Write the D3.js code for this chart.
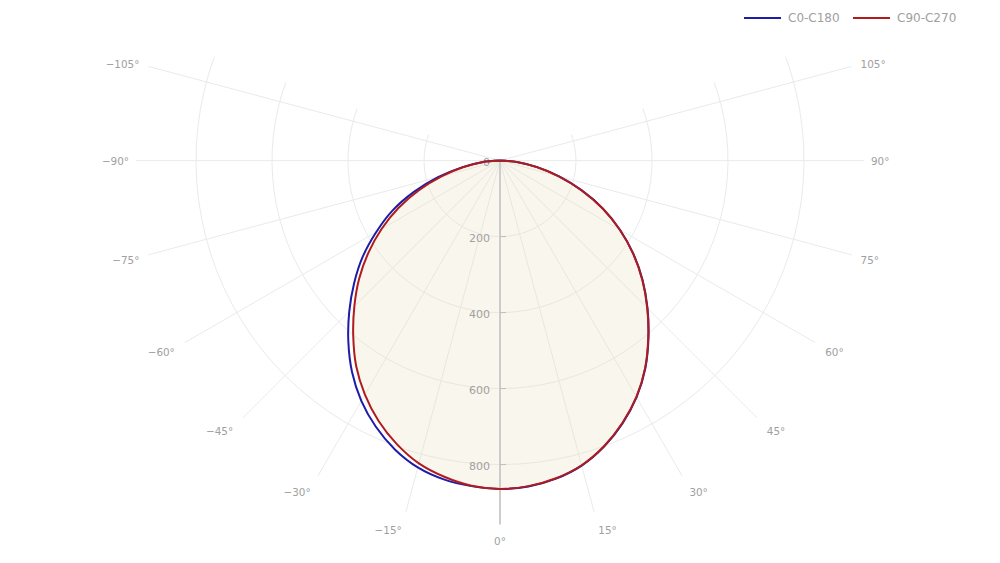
<!DOCTYPE html>
<html>
<head>
<meta charset="utf-8">
<script src="https://cdn.jsdelivr.net/npm/d3@7"></script>
<style>
  html, body { margin: 0; padding: 0; background: #fff; }
  svg { display: block; font-family: "Century Gothic", "DejaVu Sans", sans-serif; }
</style>
</head>
<body>
<svg id="chart" width="1000" height="563"></svg>
<script>
// ---- data ----
const angles = [-90,-85,-80,-75,-70,-65,-60,-55,-50,-45,-40,-35,-30,-25,-20,-15,-10,-5,
                0,5,10,15,20,25,30,35,40,45,50,55,60,65,70,75,80,85,90];
const c0c180 = [0,48,102,169,241,313,376,441,501,561,621,679,730,773,809,836,852,860,
                864,861,850,831,801,763,719,667,608,549,490,429,365,299,229,161,99,48,0];
const c90c270 = [0,47,97,158,226,295,360,423,484,542,601,660,711,756,794,825,845,859,
                 864,860,849,830,800,762,718,666,607,548,489,428,364,298,228,160,98,47,0];
const seriesNames = ["C0-C180", "C90-C270"];
const seriesColors = ["#1c1ca8", "#b01c1c"];
const radialTicks = [0, 200, 400, 600, 800];
const gridRadii = [200, 400, 600, 800];
const angularTicks = [-105,-90,-75,-60,-45,-30,-15,0,15,30,45,60,75,90,105];
const radialMax = 958;
const sectorHalf = 110;

// ---- layout ----
const svg = d3.select("#chart");
const cx = 500, cy = 160.6, R = 364;
const r = d3.scaleLinear().domain([0, radialMax]).range([0, R]);
const toRad = d => d * Math.PI / 180;
const rad = d => toRad(180 - d);   // d3 radial angle: 0° points down, positive to the right

const g = svg.append("g").attr("transform", `translate(${cx},${cy})`);

// grid circles (sector only)
g.selectAll("path.gc").data(gridRadii).join("path")
  .attr("class", "gc")
  .attr("d", d => {
    const p = d3.path();
    const a0 = toRad(90 + sectorHalf), a1 = toRad(90 - sectorHalf);
    p.moveTo(r(d) * Math.cos(a0), r(d) * Math.sin(a0));
    p.arc(0, 0, r(d), a0, a1, true);
    return p.toString();
  })
  .attr("fill", "none").attr("stroke", "#eaeaea").attr("stroke-width", 1);

// angular grid lines
g.selectAll("line.ag").data(angularTicks).join("line")
  .attr("class", "ag")
  .attr("x1", 0).attr("y1", 0)
  .attr("x2", d => r(radialMax) * Math.sin(toRad(d)))
  .attr("y2", d => r(radialMax) * Math.cos(toRad(d)))
  .attr("stroke", "#eaeaea").attr("stroke-width", 1);

// angular labels
const fmtAngle = d => (d < 0 ? "\u2212" + Math.abs(d) : d) + "°";
const labR = d => r(radialMax) + 7 + 9 * Math.abs(Math.cos(toRad(d)));
const labDy = d => (Math.cos(toRad(d)) > 0 ? 4 * Math.sqrt(Math.abs(Math.sin(toRad(2 * d)))) : 0);
svg.selectAll("text.al").data(angularTicks).join("text")
  .attr("class", "al")
  .attr("x", d => cx + labR(d) * Math.sin(toRad(d)))
  .attr("y", d => cy + labR(d) * Math.cos(toRad(d)) + labDy(d))
  .attr("text-anchor", d => d > 0 ? "start" : d < 0 ? "end" : "middle")
  .attr("dominant-baseline", "central")
  .attr("font-size", 10.4).attr("fill", "#a0a0a0")
  .text(fmtAngle);

// data
const series = [c0c180, c90c270];
const line = d3.lineRadial()
  .angle((d, i) => rad(angles[i]))
  .radius(d => r(d))
  .curve(d3.curveCatmullRom);

// fill
g.append("path").datum(c90c270)
  .attr("d", line)
  .attr("fill", "rgba(232,222,195,0.28)").attr("stroke", "none");

// radial axis
g.append("line").attr("x1", 0).attr("y1", 0).attr("x2", 0).attr("y2", r(radialMax))
  .attr("stroke", "#cccccc").attr("stroke-width", 2);
g.selectAll("line.rt").data(radialTicks.filter(d => d > 0)).join("line")
  .attr("class", "rt")
  .attr("x1", 0).attr("x2", 6).attr("y1", d => r(d)).attr("y2", d => r(d))
  .attr("stroke", "#bdbdbd").attr("stroke-width", 1);
g.selectAll("text.rl").data(radialTicks).join("text")
  .attr("class", "rl")
  .attr("x", -10).attr("y", d => r(d) + 2)
  .attr("text-anchor", "end").attr("dominant-baseline", "central")
  .attr("font-size", 11).attr("fill", "#a0a0a0")
  .text(d => d);

// lines
g.selectAll("path.s").data(series).join("path")
  .attr("class", "s")
  .attr("d", line)
  .attr("fill", "none")
  .attr("stroke", (d, i) => seriesColors[i])
  .attr("stroke-width", 2);

// legend
const legendX = [744, 853];
const lg = svg.selectAll("g.lg").data(seriesNames).join("g")
  .attr("class", "lg")
  .attr("transform", (d, i) => `translate(${legendX[i]},18)`);
lg.append("line").attr("x1", 0).attr("x2", 37).attr("y1", 0).attr("y2", 0)
  .attr("stroke", (d, i) => seriesColors[i]).attr("stroke-width", 2);
lg.append("text").attr("x", 44).attr("y", 0)
  .attr("dominant-baseline", "central")
  .attr("font-size", 12).attr("fill", "#a0a0a0")
  .text(d => d);
</script>
</body>
</html>
